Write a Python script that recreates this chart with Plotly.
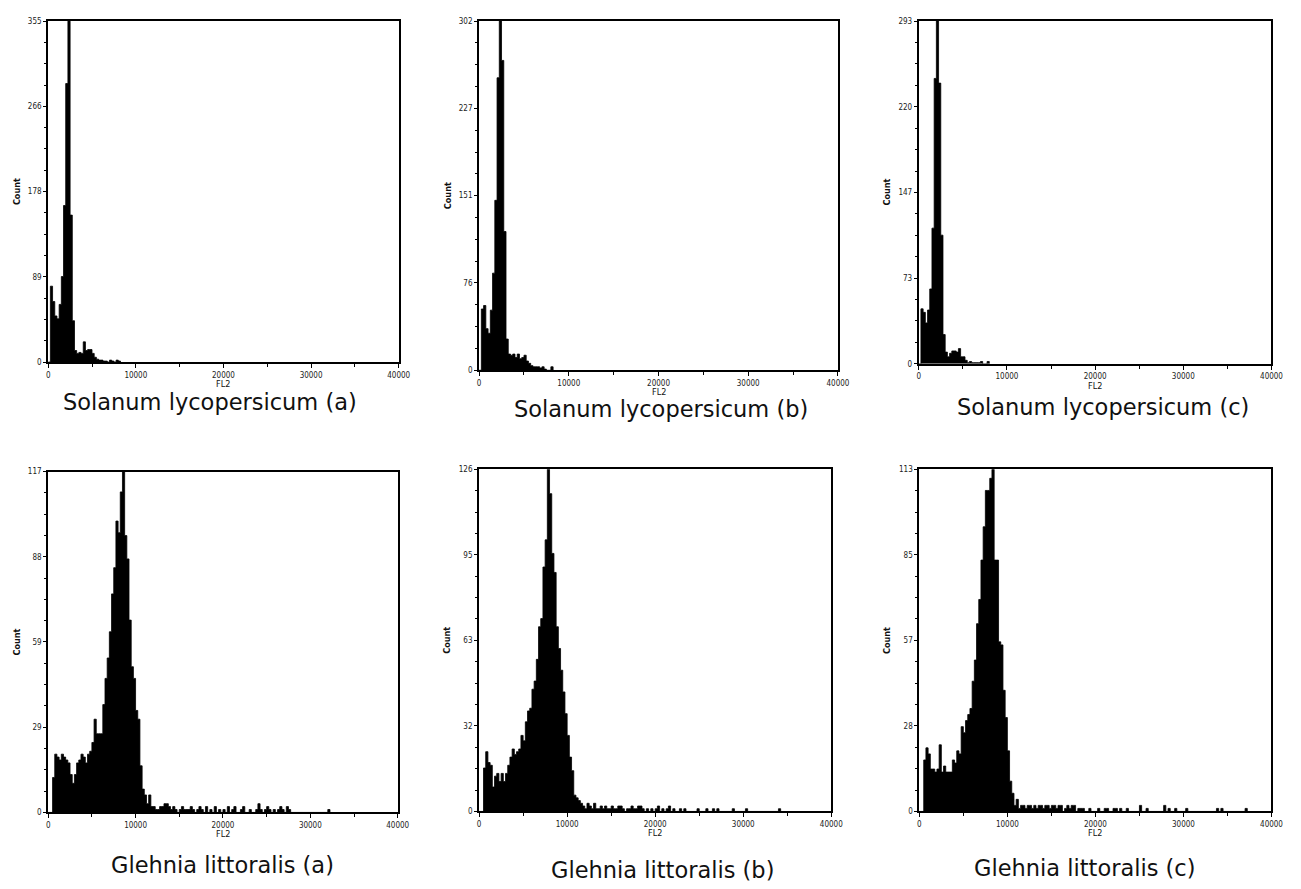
import plotly.graph_objects as go

# ---------------- data ----------------
BIN_WIDTH = 250  # FL2 channel width of each histogram bar

X_TICKS = [0, 10000, 20000, 30000, 40000]
X_TICK_LABELS = ["0", "10000", "20000", "30000", "40000"]

# Solanum lycopersicum (a), (b), (c): counts per FL2 bin starting at 0
SL_A = [0, 79, 63, 48, 45, 60, 89, 163, 290, 355, 153, 43, 12, 9, 10, 9, 21, 12, 13, 13,
        9, 5, 3, 2, 2, 1, 1, 0, 2, 1, 0, 2, 1]
SL_B = [0, 53, 56, 36, 32, 52, 84, 147, 253, 302, 268, 120, 27, 14, 13, 14, 11, 14, 10, 11,
        13, 8, 6, 4, 3, 3, 3, 2, 3, 1, 0, 0, 3]
SL_C = [0, 47, 44, 35, 46, 64, 116, 244, 293, 240, 110, 25, 10, 6, 9, 11, 11, 10, 13, 6,
        6, 3, 1, 2, 1, 1, 1, 1, 2, 0, 0, 2]

# Glehnia littoralis (a), (b), (c)
GL_A = [0, 0, 12, 20, 19, 18, 20, 19, 18, 17, 13, 10, 13, 17, 18, 20, 19, 17, 20, 21,
        24, 32, 27, 27, 27, 37, 46, 53, 62, 75, 84, 100, 96, 110, 117, 95, 87, 66, 50, 46,
        35, 32, 16, 8, 6, 3, 6, 2, 2, 1, 1, 2, 2, 3, 3, 2, 1, 2, 1, 0,
        1, 2, 1, 1, 1, 2, 1, 0, 1, 2, 1, 0, 2, 0, 1, 0, 2, 0, 1, 0,
        1, 0, 2, 0, 1, 2, 0, 0, 1, 2, 0, 0, 1, 0, 0, 1, 3, 1, 0, 1,
        2, 1, 0, 1, 0, 1, 2, 1, 0, 2, 1, 0, 0, 0, 0, 0, 0, 0, 0, 0,
        0, 0, 0, 0, 0, 0, 0, 0, 1]
GL_B = [0, 0, 16, 22, 18, 17, 9, 13, 14, 11, 14, 11, 14, 17, 20, 23, 21, 22, 23, 28,
        26, 33, 37, 38, 45, 48, 56, 68, 71, 90, 100, 126, 117, 95, 88, 68, 60, 52, 44, 36,
        28, 20, 15, 6, 5, 4, 3, 2, 1, 3, 2, 1, 3, 1, 1, 2, 1, 2, 1, 1,
        2, 1, 1, 2, 2, 1, 0, 1, 1, 2, 1, 1, 2, 2, 1, 0, 1, 0, 1, 0,
        1, 2, 0, 1, 0, 1, 2, 0, 1, 0, 0, 1, 0, 1, 0, 0, 0, 0, 0, 1,
        0, 0, 0, 1, 0, 0, 1, 0, 1, 0, 0, 0, 0, 0, 0, 1, 0, 0, 0, 0,
        0, 1, 0, 0, 0, 0, 0, 0, 0, 0, 0, 0, 0, 0, 0, 0, 1]
GL_C = [0, 0, 17, 21, 19, 14, 14, 13, 14, 22, 13, 15, 13, 13, 13, 17, 16, 20, 19, 28,
        26, 30, 32, 34, 43, 50, 62, 70, 83, 94, 106, 106, 110, 113, 83, 83, 56, 55, 40, 31,
        20, 10, 6, 2, 4, 1, 2, 2, 1, 2, 2, 1, 2, 1, 2, 2, 1, 2, 2, 1,
        2, 2, 1, 2, 2, 0, 1, 2, 1, 2, 2, 0, 1, 1, 1, 0, 0, 1, 0, 0,
        0, 1, 0, 0, 1, 1, 0, 0, 1, 1, 0, 1, 0, 0, 1, 0, 0, 0, 0, 0,
        2, 0, 0, 1, 0, 0, 0, 0, 0, 0, 0, 2, 0, 1, 0, 0, 1, 0, 0, 0,
        0, 1, 0, 0, 0, 0, 0, 0, 0, 0, 0, 0, 0, 0, 0, 1, 0, 1, 0, 0,
        0, 0, 0, 0, 0, 0, 0, 0, 1]

SERIES = [SL_A, SL_B, SL_C, GL_A, GL_B, GL_C]
Y_MAX = [355, 302, 293, 117, 126, 113]
Y_TICK_LABELS = [
    ["0", "89", "178", "266", "355"],
    ["0", "76", "151", "227", "302"],
    ["0", "73", "147", "220", "293"],
    ["0", "29", "59", "88", "117"],
    ["0", "32", "63", "95", "126"],
    ["0", "28", "57", "85", "113"],
]
CAPTIONS = ["Solanum lycopersicum (a)", "Solanum lycopersicum (b)", "Solanum lycopersicum (c)",
            "Glehnia littoralis (a)", "Glehnia littoralis (b)", "Glehnia littoralis (c)"]
Y_TITLE = "Count"
X_TITLE = "FL2"

# ---------------- layout (pixels) ----------------
W, H = 1301, 889
# left, right, top, bottom of each plot frame
FRAMES = [
    (46.7, 401.0, 17.3, 361.7),
    (482.3, 845.0, 17.3, 370.0),
    (926.7, 1283.3, 17.3, 363.5),
    (46.7, 400.0, 472.3, 816.7),
    (482.3, 838.3, 470.0, 815.7),
    (927.3, 1283.3, 470.0, 815.7),
]
CAPTION_POS = [(210, 402), (666, 409), (1113, 407), (223, 870), (668, 875), (1095, 873)]

TICK_FONT = dict(family="Liberation Sans Narrow, DejaVu Sans Condensed, Arial", size=8, color="#222")
TITLE_FONT = dict(family="Liberation Sans Narrow, DejaVu Sans Condensed, Arial", size=9, color="#111")
CAP_FONT = dict(family="DejaVu Sans, Open Sans, sans-serif", size=22.5, color="#111")


def px_x(x):
    return x / W


def px_y(y):
    return 1 - y / H


fig = go.Figure()
annotations = []
for i, (counts, ymax, ylabels, cap, fr, cp) in enumerate(
        zip(SERIES, Y_MAX, Y_TICK_LABELS, CAPTIONS, FRAMES, CAPTION_POS)):
    n = i + 1
    xa = "x" if n == 1 else f"x{n}"
    ya = "y" if n == 1 else f"y{n}"
    edges = [k * BIN_WIDTH for k in range(len(counts) + 1)]
    steps = list(counts) + [0]
    fig.add_trace(go.Scatter(
        x=edges, y=steps, xaxis=xa, yaxis=ya, mode="lines",
        line=dict(shape="hv", color="black", width=0.8),
        fill="tozeroy", fillcolor="black",
        showlegend=False, hoverinfo="x+y",
    ))
    l, r, t, b = fr
    xkey = "xaxis" if n == 1 else f"xaxis{n}"
    ykey = "yaxis" if n == 1 else f"yaxis{n}"
    fig.layout[xkey] = dict(
        domain=[px_x(l), px_x(r)], anchor=ya, range=[0, 40000],
        tickmode="array", tickvals=X_TICKS, ticktext=X_TICK_LABELS,
        ticks="outside", ticklen=4, tickwidth=1, tickcolor="black",
        minor=dict(tickmode="linear", tick0=0, dtick=5000, ticks="outside", ticklen=3,
                   tickwidth=1, tickcolor="black"),
        showline=True, linewidth=2, linecolor="black", mirror=True,
        showgrid=False, zeroline=False, tickfont=TICK_FONT, fixedrange=True,
    )
    yvals = [ymax * j / 4 for j in range(5)]
    fig.layout[ykey] = dict(
        domain=[px_y(b), px_y(t)], anchor=xa, range=[0, ymax],
        tickmode="array", tickvals=yvals, ticktext=ylabels,
        ticks="outside", ticklen=3, tickwidth=1, tickcolor="black",
        minor=dict(tickmode="linear", tick0=0, dtick=ymax / 16, ticks="outside", ticklen=2,
                   tickwidth=1, tickcolor="black"),
        showline=True, linewidth=2, linecolor="black", mirror=True,
        showgrid=False, zeroline=False, tickfont=TICK_FONT, fixedrange=True,
    )
    annotations.append(dict(
        text=f"<b>{Y_TITLE}</b>", x=px_x(l - 32), y=px_y((t + b) / 2), xref="paper", yref="paper",
        textangle=-90, showarrow=False, font=TITLE_FONT, xanchor="center", yanchor="middle"))
    annotations.append(dict(
        text=X_TITLE, x=px_x((l + r) / 2), y=px_y(b + 22), xref="paper", yref="paper",
        showarrow=False, font=TITLE_FONT, xanchor="center", yanchor="middle"))
    annotations.append(dict(
        text=cap, x=px_x(cp[0]), y=px_y(cp[1]), xref="paper", yref="paper",
        showarrow=False, font=CAP_FONT, xanchor="center", yanchor="middle"))

fig.update_layout(
    width=W, height=H, margin=dict(l=0, r=0, t=0, b=0),
    paper_bgcolor="white", plot_bgcolor="white",
    annotations=annotations, showlegend=False,
)

fig.write_html("out.html", config={"displayModeBar": False},
               post_script="document.body.style.margin='0px';")
